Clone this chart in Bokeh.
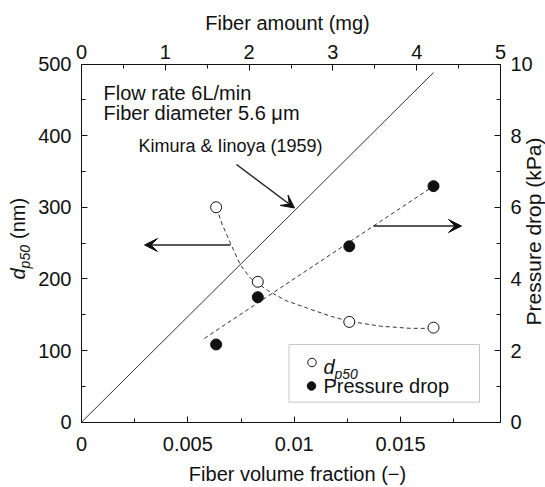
import math
from bokeh.plotting import figure
from bokeh.models import (Range1d, LinearAxis, FixedTicker, Label, Arrow, VeeHead,
                          BoxAnnotation, CustomJSTickFormatter)
from bokeh.embed import file_html
from bokeh.resources import INLINE

# ---------------- data ----------------
fiber_fraction = [0.00633, 0.00829, 0.01259, 0.01655]
dp50_nm = [300, 196, 140, 132]
pressure_kpa = [2.17, 3.49, 4.91, 6.59]

# dashed guide curve through the dp50 points
dp50_curve_frac = [0.00635, 0.00663, 0.00700, 0.00748, 0.00795, 0.00828, 0.00875,
                   0.00959, 0.01063, 0.01171, 0.01255, 0.01406, 0.01547, 0.01650]
dp50_curve_nm = [299, 275, 250, 219, 201, 194, 184, 170, 159, 148, 141, 134, 131, 131]

# dashed fit line for pressure drop
pressure_fit_frac = [0.00578, 0.01655]
pressure_fit_kpa = [2.34, 6.59]

# Kimura & Iinoya (1959) line
kimura_frac = [0.0, 0.01655]
kimura_nm = [0, 488]

x_ticks = [0, 0.005, 0.01, 0.015]
x_minor = [0.0025, 0.0075, 0.0125, 0.0175]
y_ticks = [0, 100, 200, 300, 400, 500]
y_minor = [50, 150, 250, 350, 450]
pd_ticks = [0, 2, 4, 6, 8, 10]
pd_minor = [1, 3, 5, 7, 9]
mg_ticks = [0, 1, 2, 3, 4, 5]
mg_minor = [0.5, 1.5, 2.5, 3.5, 4.5]

XMAX = 0.0197
YMAX = 500
PDMAX = 10
MGMAX = 5

# ---------------- layout (canvas pixels) ----------------
W, H = 545, 487
L, R, T, B = 81.0, 500.0, 63.5, 421.7   # plot box
FONT = "Liberation Sans"
INK = "#111111"


def span(vmax, lo_px, hi_px, total):
    """range that maps 0 -> lo_px and vmax -> hi_px over a 0..total canvas"""
    k = vmax / (hi_px - lo_px)
    return Range1d(-lo_px * k, vmax + (total - hi_px) * k)


x_rng = span(XMAX, L, R, W)
y_rng = span(YMAX, H - B, H - T, H)


def X(px):
    return x_rng.start + px / W * (x_rng.end - x_rng.start)


def Y(py):
    return y_rng.start + (H - py) / H * (y_rng.end - y_rng.start)


p = figure(width=W, height=H, x_range=x_rng, y_range=y_rng,
           output_backend="svg", toolbar_location=None,
           min_border=0, min_border_left=0, min_border_right=0,
           min_border_top=0, min_border_bottom=0,
           background_fill_color="white", border_fill_color="white")
p.outline_line_color = None
p.xgrid.visible = False
p.ygrid.visible = False
p.extra_y_ranges = {"pd": span(PDMAX, H - B, H - T, H)}
p.extra_x_ranges = {"mg": span(MGMAX, L, R, W)}


def style_axis(ax, standoff):
    ax.axis_line_color = INK
    ax.axis_line_width = 1
    ax.major_tick_line_color = INK
    ax.minor_tick_line_color = INK
    ax.major_tick_in = 6
    ax.major_tick_out = 0
    ax.minor_tick_in = 4
    ax.minor_tick_out = 0
    ax.major_label_text_font = FONT
    ax.major_label_text_font_size = "20px"
    ax.major_label_text_color = INK
    ax.major_label_standoff = standoff


xa = p.xaxis[0]
xa.ticker = FixedTicker(ticks=x_ticks, minor_ticks=x_minor)
xa.formatter = CustomJSTickFormatter(code="return String(tick);")
xa.fixed_location = 0
xa.bounds = (0, XMAX)
style_axis(xa, 15)

ya = p.yaxis[0]
ya.ticker = FixedTicker(ticks=y_ticks, minor_ticks=y_minor)
ya.fixed_location = 0
ya.bounds = (0, YMAX)
style_axis(ya, 10)

ra = LinearAxis(y_range_name="pd", ticker=FixedTicker(ticks=pd_ticks, minor_ticks=pd_minor),
                fixed_location=XMAX, bounds=(0, PDMAX))
style_axis(ra, 10)
p.add_layout(ra, "right")

ta = LinearAxis(x_range_name="mg", ticker=FixedTicker(ticks=mg_ticks, minor_ticks=mg_minor),
                fixed_location=YMAX, bounds=(0, MGMAX))
style_axis(ta, 5)
p.add_layout(ta, "above")

# ---------------- marks ----------------
p.line(kimura_frac, kimura_nm, line_color="#333333", line_width=1)
p.line(dp50_curve_frac, dp50_curve_nm, line_color="#333333", line_width=1, line_dash="4 3")
p.line(pressure_fit_frac, pressure_fit_kpa, y_range_name="pd",
       line_color="#333333", line_width=1, line_dash="4 3")
p.scatter(fiber_fraction, dp50_nm, marker="circle", size=11,
          fill_color="white", line_color=INK, line_width=1)
p.scatter(fiber_fraction, pressure_kpa, y_range_name="pd", marker="circle", size=11,
          fill_color=INK, line_color=INK)

# arrows
head = dict(size=13, fill_color=INK, line_color=INK)
p.add_layout(Arrow(end=VeeHead(**head), x_start=X(230), y_start=Y(244.5),
                   x_end=X(144), y_end=Y(244.5), line_color="#222222", line_width=1.5))
p.add_layout(Arrow(end=VeeHead(**head), x_start=X(373), y_start=Y(225.5),
                   x_end=X(461), y_end=Y(225.5), line_color="#222222", line_width=1.5))
p.add_layout(Arrow(end=VeeHead(**head), x_start=X(236), y_start=Y(164),
                   x_end=X(294), y_end=Y(207.5), line_color="#222222", line_width=1.5))


def lab(text, px, py, size, style="normal", angle=0.0, align="left"):
    """(px, py) is the wanted text baseline start in canvas pixels; the drawn
    anchor sits 0.35 em above the baseline, so shift it accordingly."""
    d = 0.35 * size
    if angle:
        px -= d
    else:
        py -= d
    p.add_layout(Label(x=X(px), y=Y(py), text=text, text_font=FONT,
                       text_font_size=f"{size}px", text_font_style=style,
                       text_color=INK, angle=angle, text_align=align,
                       text_baseline="alphabetic"))


lab("Flow rate 6L/min", 103, 99, 20)
lab("Fiber diameter 5.6 \u03bcm", 103, 119, 20)
lab("Kimura & Iinoya (1959)", 138, 152, 18)

# axis titles
lab("Fiber amount (mg)", 287, 29.5, 20, align="center")
lab("Fiber volume fraction (\u2212)", 297, 480, 20, align="center")
up = math.pi / 2
lab("Pressure drop (kPa)", 540.5, 231, 21, angle=up, align="center")
# d_p50 (nm), reading upwards
lab("d", 24, 279, 20, style="italic", angle=up)
lab("p50", 29.5, 279 - 11.1, 14, style="italic", angle=up)
lab("(nm)", 24, 279 - 11.1 - 23.4 - 6, 20, angle=up)

# legend (box under the markers)
p.add_layout(BoxAnnotation(left=X(288.5), right=X(479), top=Y(344), bottom=Y(401.7),
                           fill_color="white", fill_alpha=1.0, level="underlay",
                           line_color="#444444", line_width=1))
p.scatter([X(311.5)], [Y(362)], marker="circle", size=8.5, fill_color="white",
          line_color=INK, line_width=1)
p.scatter([X(311)], [Y(385.5)], marker="circle", size=8.5, fill_color=INK, line_color=INK)
lab("d", 323, 373, 20, style="italic")
lab("p50", 334, 378, 14, style="italic")
lab("Pressure drop", 323, 392, 20)

open("out.html", "w").write(file_html(p, INLINE))
